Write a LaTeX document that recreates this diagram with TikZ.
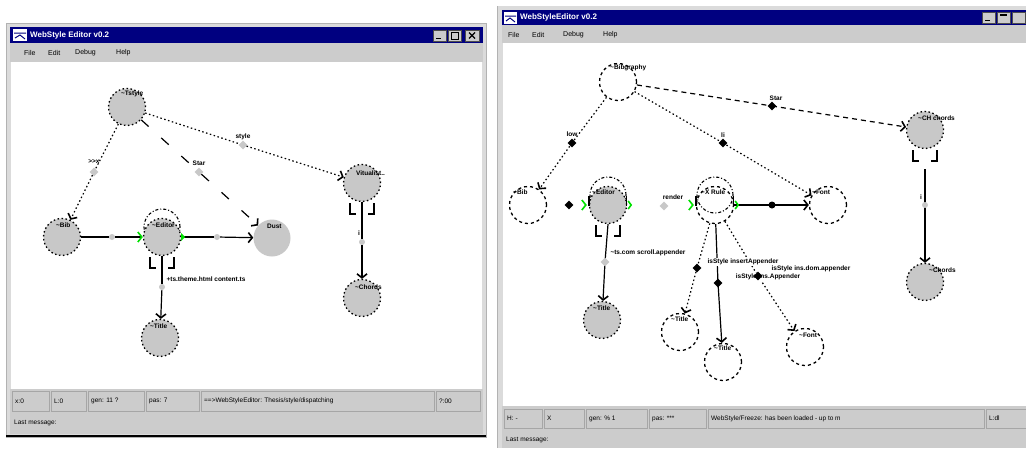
\documentclass[tikz,border=0pt]{standalone}
\usepackage{fontspec}
\setmainfont{Liberation Sans}
\usetikzlibrary{arrows.meta}
\usetikzlibrary{shapes.geometric}

\definecolor{winblue}{RGB}{0,0,128}
\definecolor{winface}{RGB}{204,204,204}
\definecolor{objgrey}{RGB}{200,200,200}
\definecolor{portgreen}{RGB}{0,225,0}

\tikzset{
  obj/.style={circle,minimum size=37pt,inner sep=0pt,fill=objgrey,draw,line width=1.3pt,dash pattern=on 1.5pt off 2.5pt},
  emptyobj/.style={obj,fill=none,dash pattern=on 3pt off 3pt},
  plainobj/.style={circle,minimum size=37pt,inner sep=0pt,fill=objgrey},
  selring/.style={circle,minimum size=36pt,inner sep=0pt,draw,line width=1.1pt,dash pattern=on 3pt off 2pt on 1pt off 2pt},
  lbl/.style={anchor=west,inner sep=0pt,font=\fontsize{6.5}{7}\selectfont\bfseries},
  elbl/.style={inner sep=0.6pt,fill=white,font=\fontsize{6.5}{7}\selectfont\bfseries},
  greymark/.style={diamond,fill=objgrey,inner sep=0pt,minimum size=9pt},
  blackmark/.style={diamond,fill=black,inner sep=0pt,minimum size=9pt},
  greydot/.style={circle,fill=objgrey,inner sep=0pt,minimum size=6pt},
  blackdot/.style={circle,fill=black,inner sep=0pt,minimum size=7pt},
  link/.style={line width=1.2pt},
  dots/.style={link,dash pattern=on 1.5pt off 2.5pt},
  longdash/.style={link,dash pattern=on 10pt off 17pt},
  shortdash/.style={link,dash pattern=on 5pt off 4pt},
  tip/.style={-{Straight Barb[length=4pt,width=10pt,line width=1.6pt]}},
  gtip/.style={-{Straight Barb[length=4pt,width=10pt,line width=1.6pt,color=portgreen]}},
  greenmark/.style={portgreen,line width=1.6pt},
  loopmark/.style={line width=2pt},
  menu/.style={anchor=west,inner sep=0pt,font=\fontsize{7}{7}\selectfont},
  stat/.style={anchor=west,inner sep=0pt,font=\fontsize{6.5}{7}\selectfont},
  cellline/.style={draw=gray!70,line width=0.6pt},
  btn/.style={draw=gray!60!black,fill=winface,line width=0.6pt}
}

\begin{document}
\begin{tikzpicture}[x=1pt,y=-1pt]
\useasboundingbox (0,0) rectangle (1026,448);
\fill[white] (0,0) rectangle (1026,448);

% ---------------- left window ----------------
\fill[winface!70] (6,23) rectangle (486,437);
\draw[gray!60] (6,23) rectangle (486,437);
\fill[winblue] (10,27) rectangle (483,43);
\fill[winface] (10,43) rectangle (483,62);
\fill[white] (11,62) rectangle (482,389);
\fill[winface] (10,389) rectangle (483,434);
\draw[line width=1.5pt] (6,436) -- (486,436);
\fill[white] (13,29) rectangle (27,41);
\draw[winblue,line width=1pt] (14,33) -- (26,33) (15,38) -- (20,35) -- (25,39);
\node[anchor=west,text=white,inner sep=0pt,font=\fontsize{8}{8}\selectfont\bfseries] (ltbar) at (30,35.5) {WebStyle Editor v0.2};
\draw[btn] (433,30) rectangle (446,41);
\draw[btn] (448,30) rectangle (461,41);
\draw[btn] (465,30) rectangle (479,41);
\draw[line width=1.2pt] (436,38.5) -- (441,38.5);
\draw[line width=1pt] (451,32.5) rectangle (458,39);
\draw[line width=1.2pt] (469,32.5) -- (475,38.5) (469,38.5) -- (475,32.5);
\node[menu] (lmfile) at (24,52.5) {File};
\node[menu] (lmedit) at (48,52.5) {Edit};
\node[menu] (lmdebug) at (75,52.5) {Debug};
\node[menu] (lmhelp) at (116,52.5) {Help};

% status bar
\foreach \xa/\xb/\txt in {11/50/{x:0}, 50/87/{L:0}, 87/145/{gen: 11 ?}, 145/200/{pas: 7}, 200/435/{==>WebStyleEditor: Thesis/style/dispatching}, 435/481/{?:00}} {
  \draw[cellline] (\xa+1,391) rectangle (\xb-1,411);
  \node[stat] (ls\xa) at (\xa+4,401) {\txt};
}
\node[stat] (lmsg) at (14,423) {Last message:};

% objects
\node[obj] (lbib) at (127,107) {};
\node[obj] (llist) at (62,237) {};
\node[selring] (lsel) at (162,227) {};
\node[obj] (ledit) at (162,237) {};
\node[plainobj] (ldust) at (272,238) {};
\node[obj] (lvis) at (362,183) {};
\node[obj] (lchild) at (362,298) {};
\node[obj] (ltitle) at (160,338) {};

\node[greymark] (ld1) at (94,172) {};
\node[greymark] (ld2) at (199,172) {};
\node[greymark] (ld3) at (243,145) {};
\node[greydot] (lg1) at (112,237) {};
\node[greydot] (lg2) at (217,237) {};
\node[greydot] (lg3) at (162,287) {};
\node[greydot] (lg4) at (362,242) {};

% links
\draw[dots] (lbib) -- (ld1);
\draw[dots,tip] (ld1) -- (llist);
\draw[longdash] (lbib) -- (ld2);
\draw[longdash,tip] (ld2) -- (ldust);
\draw[dots] (lbib) -- (ld3);
\draw[dots,tip] (ld3) -- (lvis);
\draw[link] (llist) -- (lg1);
\draw[link,gtip] (lg1) -- (ledit);
\draw[link] (ledit) -- (lg2);
\draw[link,tip] (lg2) -- (ldust);
\fill[portgreen] ([shift={(4,0)}]ledit.east) -- ([shift={(0,-4)}]ledit.east) -- ([shift={(0,4)}]ledit.east) -- cycle;
\draw[loopmark] ([shift={(-12,1)}]ledit.south) -- ++(0,11) -- ++(6,0);
\draw[loopmark] ([shift={(12,1)}]ledit.south) -- ++(0,11) -- ++(-6,0);
\draw[link] (ledit.south) -- (lg3);
\draw[link,tip] (lg3) -- (ltitle);
\draw[loopmark] ([shift={(-12,1)}]lvis.south) -- ++(0,11) -- ++(6,0);
\draw[loopmark] ([shift={(12,1)}]lvis.south) -- ++(0,11) -- ++(-6,0);
\draw[link] (lvis.south) -- (lg4);
\draw[link,tip] (lg4) -- (lchild);

% labels
\node[lbl] (lbibt) at (121,94) {\textasciitilde Tstyle};
\node[lbl] (llistt) at (56,225) {\textasciitilde Bib};
\node[lbl] (leditt) at (152,225) {\textasciitilde Editor};
\node[lbl] (ldustt) at (267,226) {Dust};
\node[lbl] (lvist) at (356,173) {Vitualist..};
\node[lbl] (lchildt) at (355,287) {\textasciitilde Chords};
\node[lbl] (ltitlet) at (150,326) {\textasciitilde Title};
\node[elbl,fill=none] (ld1t) at (94,162) {{>}{>}x};
\node[elbl,fill=none] (ld2t) at (199,163) {Star};
\node[elbl,fill=none] (ld3t) at (243,137) {style};
\node[elbl] (lg3t) at (206,279) {+ts.theme.html content.ts};
\node[elbl,fill=none] (lg4t) at (359,233) {i};

% ---------------- right window ----------------
\fill[winface!70] (497,6) rectangle (1026,448);
\draw[gray!60] (497,6) -- (497,448);
\fill[winblue] (502,10) rectangle (1026,25);
\fill[winface] (502,25) rectangle (1026,43);
\fill[white] (503,43) rectangle (1026,406);
\fill[winface] (502,406) rectangle (1026,448);
\fill[white] (504,12) rectangle (517,24);
\draw[winblue,line width=1pt] (505,16) -- (516,16) (506,21) -- (510,18) -- (515,22);
\node[anchor=west,text=white,inner sep=0pt,font=\fontsize{8}{8}\selectfont\bfseries] (rtbar) at (520,17.5) {WebStyleEditor v0.2};
\draw[btn] (982,12) rectangle (995,23);
\draw[btn] (997,12) rectangle (1010,23);
\draw[btn] (1012,12) rectangle (1025,23);
\draw[line width=1.2pt] (985,20.5) -- (990,20.5);
\draw[line width=1.2pt] (1000,15) -- (1007,15);
\node[menu] (rmfile) at (508,34.5) {File};
\node[menu] (rmedit) at (532,34.5) {Edit};
\node[menu] (rmdebug) at (563,34.5) {Debug};
\node[menu] (rmhelp) at (603,34.5) {Help};

% status bar
\foreach \xa/\xb/\txt in {503/543/{H: -}, 543/585/{X}, 585/648/{gen: \% 1}, 648/707/{pas: ***}, 707/985/{WebStyle/Freeze: has been loaded - up to m}, 985/1028/{L:dl}} {
  \draw[cellline] (\xa+1,409) rectangle (\xb-1,428);
  \node[stat] (rs\xa) at (\xa+4,418.5) {\txt};
}
\node[stat] (rmsg) at (506,440) {Last message:};

% objects
\node[emptyobj] (rbib) at (618,82) {};
\node[obj] (rchord) at (925,130) {};
\node[emptyobj] (rbibl) at (528,205) {};
\node[selring] (rsel1) at (608,195) {};
\node[obj] (red) at (608,205) {};
\node[selring] (rsel2) at (715,195) {};
\node[emptyobj] (rx) at (715,205) {};
\node[emptyobj] (rfo) at (828,205) {};
\node[obj] (rchild) at (925,282) {};
\node[obj] (rtitle) at (602,320) {};
\node[emptyobj] (ra) at (680,332) {};
\node[emptyobj] (rb) at (723,362) {};
\node[emptyobj] (rc) at (805,347) {};

\coordinate (rd1) at (772,106);
\coordinate (rd2) at (572,143);
\coordinate (rd3) at (723,143);
\coordinate (rg1) at (925,205);
\coordinate (rg2) at (605,262);
\coordinate (rd6) at (697,268);
\coordinate (rd7) at (758,276);
\coordinate (rd8) at (718,283);
\coordinate (rk1) at (772,205);

% links
\draw[shortdash] (rbib) -- (rd1);
\draw[shortdash,tip] (rd1) -- (rchord);
\draw[dots] (rbib) -- (rd2);
\draw[dots,tip] (rd2) -- (rbibl);
\draw[dots] (rbib) -- (rd3);
\draw[dots,tip] (rd3) -- (rfo);
\draw[loopmark] ([shift={(-12,1)}]rchord.south) -- ++(0,11) -- ++(6,0);
\draw[loopmark] ([shift={(12,1)}]rchord.south) -- ++(0,11) -- ++(-6,0);
\draw[link] ([shift={(0,20)}]rchord.south) -- (rg1);
\draw[link,tip] (rg1) -- (rchild);
\draw[link] (rx) -- (rk1);
\draw[link,tip] (rk1) -- (rfo);
\draw[loopmark] ([shift={(-12,1)}]red.south) -- ++(0,11) -- ++(6,0);
\draw[loopmark] ([shift={(12,1)}]red.south) -- ++(0,11) -- ++(-6,0);
\draw[link] (red.south) -- (rg2);
\draw[link,tip] (rg2) -- (rtitle);
\draw[dots] (rx) -- (rd6);
\draw[dots,tip] (rd6) -- (ra);
\draw[link] (rx) -- (rd8);
\draw[link,tip] (rd8) -- (rb);
\draw[dots] (rx) -- (rd7);
\draw[dots,tip] (rd7) -- (rc);

% ports
\draw[greenmark] ([shift={(-7,-5)}]red.west) -- ([shift={(-3,0)}]red.west) -- ([shift={(-7,5)}]red.west);
\draw[line width=1.3pt] ([shift={(0,-9)}]red.west) -- ([shift={(0,1)}]red.west);
\draw[greenmark] ([shift={(1,-4)}]red.east) -- ([shift={(4,0)}]red.east) -- ([shift={(1,4)}]red.east);
\draw[line width=1.3pt] ([shift={(-1,-9)}]red.east) -- ([shift={(-1,1)}]red.east);
\draw[greenmark] ([shift={(-7,-5)}]rx.west) -- ([shift={(-3,0)}]rx.west) -- ([shift={(-7,5)}]rx.west);
\draw[line width=1.3pt] ([shift={(0,-9)}]rx.west) -- ([shift={(0,1)}]rx.west);
\draw[greenmark] ([shift={(1,-4)}]rx.east) -- ([shift={(4,0)}]rx.east) -- ([shift={(1,4)}]rx.east);
\draw[line width=1.3pt] ([shift={(-1,-9)}]rx.east) -- ([shift={(-1,1)}]rx.east);

% labels
\node[lbl] (rbibt) at (610,68) {\textasciitilde Bibgraphy};
\node[lbl] (rchordt) at (918,118) {\textasciitilde CH chords};
\node[lbl] (rbiblt) at (513,192) {\textasciitilde Bib};
\node[lbl] (redt) at (592,192) {\textasciitilde Editor};
\node[lbl] (rxt) at (701,192) {\textasciitilde X Rule};
\node[lbl] (rfot) at (812,192) {\textasciitilde Font};
\node[lbl] (rchildt) at (929,270) {\textasciitilde Chords};
\node[lbl] (rtitlet) at (593,308) {\textasciitilde Title};
\node[lbl] (rat) at (671,319) {\textasciitilde Title};
\node[lbl] (rbt) at (714,348) {\textasciitilde Title};
\node[lbl] (rct) at (799,335) {\textasciitilde Font};
\node[elbl,fill=none] (rd1t) at (776,98) {Star};
\node[elbl,fill=none] (rd2t) at (572,134) {low};
\node[elbl,fill=none] (rd3t) at (723,135) {li};
\node[elbl,fill=none] (rg1t) at (921,197) {i};
\node[elbl,fill=none] (rd5t) at (673,197) {render};
\node[elbl] (rg2t) at (648,253) {\textasciitilde ts.com scroll.appender};
\node[elbl] (rd6t) at (743,262) {isStyle insertAppender};
\node[elbl] (rd7t) at (811,269) {isStyle ins.dom.appender};
\node[elbl] (rd8t) at (768,277) {isStyle ins.Appender};

% markers
\node[blackmark] (rm1) at (rd1) {};
\node[blackmark] (rm2) at (rd2) {};
\node[blackmark] (rm3) at (rd3) {};
\node[greydot] (rm4) at (rg1) {};
\node[blackmark] (rd4) at (569,205) {};
\node[greymark] (rd5) at (664,206) {};
\node[greymark] (rm5) at (rg2) {};
\node[blackmark] (rm6) at (rd6) {};
\node[blackmark] (rm7) at (rd7) {};
\node[blackmark] (rm8) at (rd8) {};
\node[blackdot] (rm9) at (rk1) {};
\end{tikzpicture}
\end{document}
